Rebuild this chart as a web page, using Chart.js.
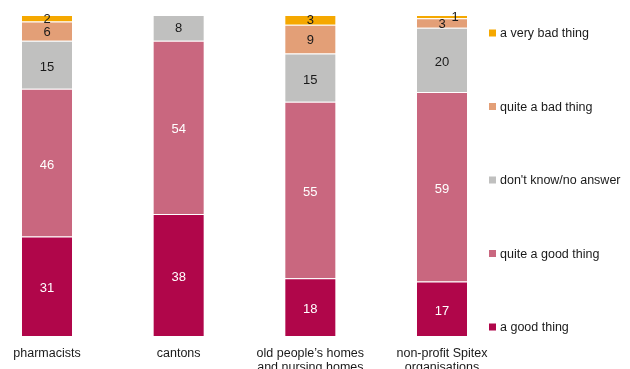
<!DOCTYPE html>
<html>
<head>
<meta charset="utf-8">
<script src="https://cdn.jsdelivr.net/npm/chart.js@4/dist/chart.umd.min.js"></script>
<style>
html,body{margin:0;padding:0;background:#fff;}
#wrap{width:630px;height:369px;position:relative;}
</style>
</head>
<body>
<div id="wrap"><canvas id="chart" width="630" height="369"></canvas></div>
<script>
const categories = [
    "pharmacists",
    "cantons",
    ["old people\u2019s homes", "and nursing homes"],
    ["non-profit Spitex", "organisations"]
];
const goodThing      = [31, 38, 18, 17];
const quiteGood      = [46, 54, 55, 59];
const dontKnow       = [15, 8, 15, 20];
const quiteBad       = [6, 0, 9, 3];
const veryBad        = [2, 0, 3, 1];

const seriesNames  = ["a good thing", "quite a good thing", "don't know/no answer", "quite a bad thing", "a very bad thing"];
const seriesColors = ["#B0064A", "#C9677F", "#C0C0BF", "#E39F77", "#F5A800"];
const labelColors  = ["#ffffff", "#ffffff", "#1a1a1a", "#1a1a1a", "#1a1a1a"];
const seriesValues = [goodThing, quiteGood, dontKnow, quiteBad, veryBad];

const FONT = "Liberation Sans, Arial, sans-serif";

// value labels inside the segments
const valueLabels = {
    id: "valueLabels",
    afterDatasetsDraw(c){
        const ctx = c.ctx;
        ctx.save();
        ctx.font = "13px " + FONT;
        ctx.textAlign = "center";
        ctx.textBaseline = "middle";
        c.data.datasets.forEach((ds, i) => {
            c.getDatasetMeta(i).data.forEach((bar, j) => {
                const v = ds.data[j];
                if(!v) return;
                let x = bar.x;
                let y = (bar.y + bar.base) / 2;
                if(v >= 10) y += 1.5;
                if(v === 1) x += 13;
                ctx.fillStyle = labelColors[i];
                ctx.fillText(v, x, y + 1);
            });
        });
        ctx.restore();
    }
};

// legend on the right, top item = last series
const sideLegend = {
    id: "sideLegend",
    afterDraw(c){
        const ctx = c.ctx;
        ctx.save();
        ctx.font = "12.5px " + FONT;
        ctx.textBaseline = "middle";
        ctx.textAlign = "left";
        const n = seriesNames.length;
        for(let k = 0; k < n; k++){
            const i = n - 1 - k;
            const y = 33 + k * 73.5;
            ctx.fillStyle = seriesColors[i];
            ctx.fillRect(489, y - 3.5, 7, 7);
            ctx.fillStyle = "#1a1a1a";
            ctx.fillText(seriesNames[i], 500, y + 1);
        }
        ctx.restore();
    }
};

new Chart(document.getElementById("chart"), {
    type: "bar",
    data: {
        labels: categories,
        datasets: seriesValues.map((vals, i) => ({
            label: seriesNames[i],
            data: vals,
            backgroundColor: seriesColors[i],
            borderColor: "rgba(255,255,255,0.3)",
            borderWidth: 1,
            barPercentage: 0.79,
            categoryPercentage: 0.5,
            clip: false
        }))
    },
    options: {
        responsive: false,
        animation: false,
        events: [],
        layout: {padding: {left: 47, right: 188, top: 15, bottom: 0}},
        plugins: {legend: {display: false}, tooltip: {enabled: false}},
        scales: {
            x: {
                stacked: true,
                offset: false,
                grid: {display: false},
                border: {display: false},
                ticks: {
                    color: "#1a1a1a",
                    font: {family: FONT, size: 12.5, lineHeight: 1.1},
                    padding: 3,
                    maxRotation: 0,
                    autoSkip: false
                },
                afterFit(scale){ scale.height = 33; }
            },
            y: {
                stacked: true,
                min: 0,
                max: 100,
                display: false
            }
        }
    },
    plugins: [valueLabels, sideLegend]
});
</script>
</body>
</html>
